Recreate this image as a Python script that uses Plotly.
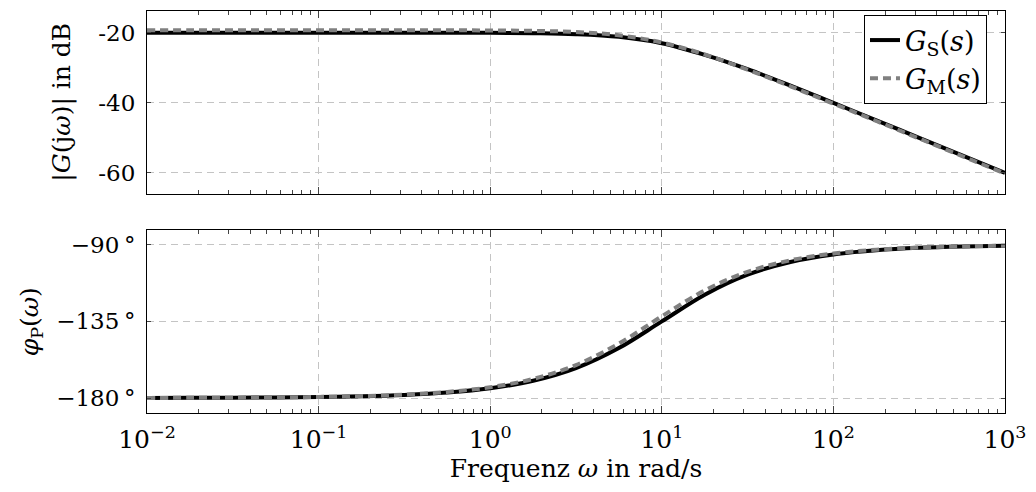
import plotly.graph_objects as go

# frequency samples (rad/s), quarter-decade steps from 1e-2 to 1e3
omega = [0.01, 0.0178, 0.0316, 0.0562, 0.1, 0.178, 0.316, 0.562, 1.0, 1.78, 3.16,
         5.62, 10.0, 17.8, 31.6, 56.2, 100.0, 178.0, 316.0, 562.0, 1000.0]

# magnitude in dB
mag_S = [-20.0, -20.0, -20.0, -20.0, -20.0, -20.0, -20.0, -20.01, -20.04, -20.14, -20.41,
         -21.18, -23.01, -26.33, -30.41, -35.1, -40.04, -45.0, -50.0, -55.0, -60.0]
mag_M = [-19.3, -19.3, -19.3, -19.3, -19.3, -19.3, -19.3, -19.31, -19.35, -19.47, -19.8,
         -20.73, -22.79, -26.21, -30.55, -35.3, -40.25, -45.2, -50.2, -55.2, -60.2]

# phase in degrees
ph_S = [-179.94, -179.9, -179.82, -179.68, -179.43, -178.98, -178.19, -176.78, -174.29,
        -169.9, -162.45, -150.65, -135.0, -119.3, -107.55, -100.1, -95.71, -93.22,
        -91.81, -91.02, -90.57]
ph_M = [-179.94, -179.89, -179.8, -179.64, -179.36, -178.87, -177.99, -176.43, -173.66,
        -168.8, -160.65, -148.03, -132.0, -116.8, -105.9, -99.1, -95.14, -92.9,
        -91.63, -90.92, -90.52]

mag_ticks = [-20, -40, -60]
mag_ticktext = ["-20", "-40", "-60"]
ph_ticks = [-90, -135, -180]
ph_ticktext = ["\u221290\u2009\u00b0", "\u2212135\u2009\u00b0", "\u2212180\u2009\u00b0"]
x_ticks = [0.01, 0.1, 1, 10, 100, 1000]
x_ticktext = ["10<sup>\u22122</sup>", "10<sup>\u22121</sup>", "10<sup>0</sup>",
              "10<sup>1</sup>", "10<sup>2</sup>", "10<sup>3</sup>"]

FONT = "'DejaVu Serif', 'Liberation Serif', serif"
GRID = "#c4c4c4"

fig = go.Figure()

common_black = dict(color="black", width=4, shape="spline")
common_gray = dict(color="#808080", width=4, dash="8px,5px", shape="spline")

fig.add_trace(go.Scatter(x=omega, y=mag_S, mode="lines", line=common_black,
                         name="<i>G</i><sub>S</sub>(<i>s</i>)", xaxis="x", yaxis="y"))
fig.add_trace(go.Scatter(x=omega, y=mag_M, mode="lines", line=common_gray,
                         name="<i>G</i><sub>M</sub>(<i>s</i>)", xaxis="x", yaxis="y"))
fig.add_trace(go.Scatter(x=omega, y=ph_S, mode="lines", line=common_black,
                         showlegend=False, xaxis="x2", yaxis="y2"))
fig.add_trace(go.Scatter(x=omega, y=ph_M, mode="lines", line=common_gray,
                         showlegend=False, xaxis="x2", yaxis="y2"))

xcommon = dict(type="log", range=[-2, 3], showline=True, linecolor="black", linewidth=1,
               mirror="ticks", ticks="inside", ticklen=7, tickcolor="#444", tickwidth=1,
               minor=dict(ticks="inside", ticklen=4, dtick="D1", tickcolor="#444", showgrid=False),
               showgrid=True, gridcolor=GRID, griddash="7px,5px", gridwidth=1,
               tickvals=x_ticks, ticktext=x_ticktext, zeroline=False)
ycommon = dict(showline=True, linecolor="black", linewidth=1, mirror="ticks",
               ticks="inside", ticklen=4, tickcolor="#444",
               showgrid=True, gridcolor=GRID, griddash="7px,5px", gridwidth=1,
               zeroline=False, ticklabelstandoff=6)

fig.update_layout(
    width=1036, height=492,
    margin=dict(l=147, r=26, t=10, b=79),
    plot_bgcolor="white", paper_bgcolor="white",
    font=dict(family=FONT, size=24, color="black"),
    showlegend=True,
    legend=dict(x=0.979, y=0.99, xanchor="right", yanchor="top",
                bordercolor="black", borderwidth=1, bgcolor="white",
                font=dict(family=FONT, size=27), tracegroupgap=0,
                itemwidth=30),
    xaxis=dict(xcommon, domain=[0, 1], anchor="y", showticklabels=False),
    yaxis=dict(ycommon, domain=[0.546, 1], anchor="x", range=[-65.9, -13.8],
               tickvals=mag_ticks, ticktext=mag_ticktext,
               tickfont=dict(size=23),
               title=dict(text="|<i>G</i>(j<i>\u03c9</i>)| in dB", font=dict(size=25), standoff=20)),
    xaxis2=dict(xcommon, domain=[0, 1], anchor="y2", showticklabels=True,
                tickfont=dict(size=25), ticklabelstandoff=4,
                title=dict(text="Frequenz <i>\u03c9</i> in rad/s", font=dict(size=25), standoff=4)),
    yaxis2=dict(ycommon, domain=[0, 0.454], anchor="x2", range=[-188.8, -81.6],
                tickvals=ph_ticks, ticktext=ph_ticktext,
                tickfont=dict(size=23),
                title=dict(text="<i>\u03c6</i><sub>P</sub>(<i>\u03c9</i>)", font=dict(size=25), standoff=10)),
)

fig.write_html("out.html")
